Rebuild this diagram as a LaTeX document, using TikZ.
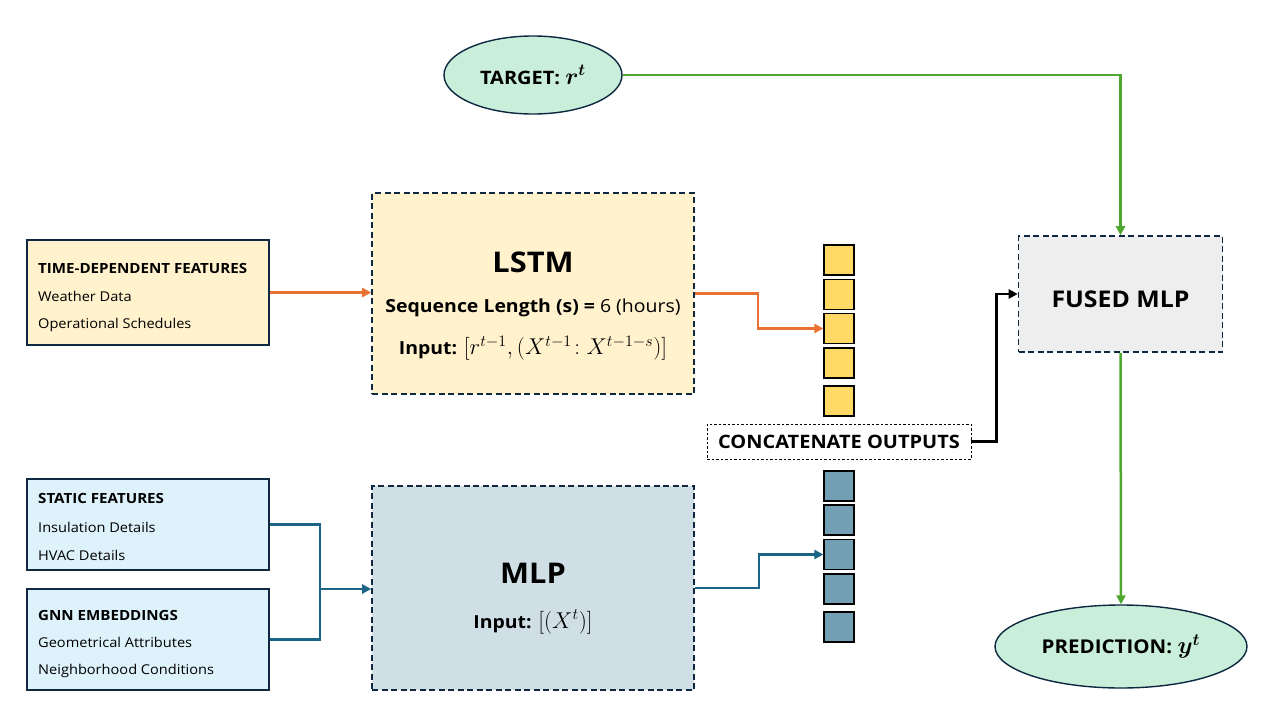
\RequirePackage{fix-cm}
\documentclass[tikz,border=0pt]{standalone}
\usepackage{graphicx}
\usepackage{fontspec}
\setmainfont{Open Sans}[FakeStretch=1.08]
\usetikzlibrary{shapes.geometric,arrows.meta}
\definecolor{dkb}{HTML}{0E2841}
\definecolor{yelfill}{HTML}{FFF2CC}
\definecolor{bluefill}{HTML}{DDF2FB}
\definecolor{mlpfill}{HTML}{D0DFE6}
\definecolor{greenfill}{HTML}{C9EFDA}
\definecolor{grayfill}{HTML}{EEEEEE}
\definecolor{orangec}{HTML}{E97132}
\definecolor{bluec}{HTML}{1B6486}
\definecolor{greenc}{HTML}{4EA72E}
\definecolor{yelsq}{HTML}{FFD966}
\definecolor{bluesq}{HTML}{739FB5}
\newcommand{\mathbig}[1]{\scalebox{1.27}{#1}}
\tikzset{
  featbox/.style={draw=dkb, line width=1.8pt, rectangle, inner sep=0pt},
  dashbox/.style={draw=dkb, line width=1.6pt, dash pattern=on 6pt off 3.5pt, rectangle, inner sep=0pt},
  ellnode/.style={draw=dkb, line width=1.4pt, ellipse, fill=greenfill, inner sep=0pt},
  sqnode/.style={draw=black, line width=1.3pt, rectangle, inner sep=0pt, minimum width=30pt, minimum height=30pt},
  headtxt/.style={anchor=west, inner sep=0pt, font=\fontsize{14}{16}\selectfont\bfseries},
  bodytxt/.style={anchor=west, inner sep=0pt, font=\fontsize{13.5}{16}\selectfont},
  conn/.style={line width=2.5pt},
  tip/.style={-{Triangle[length=9pt,width=9pt]}}
}
\begin{document}
\begin{tikzpicture}[x=1pt,y=-1pt]
\useasboundingbox[fill=white] (0,0) rectangle (1280,720);

% feature boxes
\node[featbox, fill=yelfill, minimum width=242pt, minimum height=105pt] (tdf) at (148,292.5) {};
\node[headtxt] (tdfh) at (38,268) {TIME-DEPENDENT FEATURES};
\node[bodytxt] (tdf1) at (38,296) {Weather Data};
\node[bodytxt] (tdf2) at (38,325) {Operational Schedules};

\node[featbox, fill=bluefill, minimum width=242pt, minimum height=91pt] (stat) at (148,524.5) {};
\node[headtxt] (stath) at (38,498) {STATIC FEATURES};
\node[bodytxt] (stat1) at (38,527) {Insulation Details};
\node[bodytxt] (stat2) at (38,555) {HVAC Details};

\node[featbox, fill=bluefill, minimum width=242pt, minimum height=101pt] (gnn) at (148,639.5) {};
\node[headtxt] (gnnh) at (38,615) {GNN EMBEDDINGS};
\node[bodytxt] (gnn1) at (38,642) {Geometrical Attributes};
\node[bodytxt] (gnn2) at (38,671) {Neighborhood Conditions};

% LSTM
\node[dashbox, fill=yelfill, minimum width=322pt, minimum height=201pt] (lstm) at (533,293.5) {};
\node[inner sep=0pt, font=\fontsize{28.5}{34}\selectfont\bfseries] (lstmt) at (533,262) {LSTM};
\node[inner sep=0pt, font=\fontsize{18}{22}\selectfont] (lstms) at (533,308) {\textbf{Sequence Length (s) =} 6 (hours)};
\node[inner sep=0pt, font=\fontsize{18}{22}\selectfont] (lstmi) at (533,348) {\textbf{Input:} \mathbig{$[r^{t-1},(X^{t-1}\!:X^{t-1-s})]$}};

% MLP
\node[dashbox, fill=mlpfill, minimum width=322pt, minimum height=204pt] (mlp) at (533,588) {};
\node[inner sep=0pt, font=\fontsize{28.5}{34}\selectfont\bfseries] (mlpt) at (533,573) {MLP};
\node[inner sep=0pt, font=\fontsize{18}{22}\selectfont] (mlpi) at (533,622) {\textbf{Input:} \mathbig{$[(X^{t})]$}};

% ellipses
\node[ellnode, minimum width=178pt, minimum height=78pt, font=\fontsize{18.5}{20}\selectfont\bfseries] (target) at (533,75) {TARGET: \mathbig{\boldmath$r^t$}};
\node[ellnode, minimum width=252pt, minimum height=83pt, font=\fontsize{19}{20}\selectfont\bfseries] (pred) at (1121,646.5) {PREDICTION: \mathbig{\boldmath$y^t$}};

% fused
\node[dashbox, fill=grayfill, minimum width=204pt, minimum height=116pt] (fused) at (1120.5,294) {};
\node[inner sep=0pt, font=\fontsize{23}{26}\selectfont\bfseries] (fusedt) at (1120.5,299) {FUSED MLP};

% squares
\node[sqnode, fill=yelsq] (y1) at (839,260) {};
\node[sqnode, fill=yelsq] (y2) at (839,294.5) {};
\node[sqnode, fill=yelsq] (y3) at (839,328.5) {};
\node[sqnode, fill=yelsq] (y4) at (839,363) {};
\node[sqnode, fill=yelsq] (y5) at (839,401) {};
\node[sqnode, fill=bluesq] (b1) at (839,486) {};
\node[sqnode, fill=bluesq] (b2) at (839,520) {};
\node[sqnode, fill=bluesq] (b3) at (839,554.5) {};
\node[sqnode, fill=bluesq] (b4) at (839,589) {};
\node[sqnode, fill=bluesq] (b5) at (839,627) {};

% concatenate
\node[draw=black, line width=0.8pt, dash pattern=on 2.5pt off 2pt, fill=white, minimum width=264pt, minimum height=35pt, inner sep=0pt, font=\fontsize{18.5}{20}\selectfont\bfseries] (concat) at (839,441.5) {CONCATENATE OUTPUTS};

% connectors
\draw[conn, orangec, tip] (tdf.east) -- (tdf.east -| lstm.west);
\draw[conn, orangec, tip] (lstm.east) -- ++(63,0) |- (y3.west);
\draw[conn, bluec, tip] (mlp.east) -- ++(64,0) |- (b3.west);
\coordinate (jn) at (320,589);
\draw[conn, bluec] (stat.east) -| (jn);
\draw[conn, bluec] (gnn.east) -| (jn);
\draw[conn, bluec, tip] (jn) -- (jn -| mlp.west);
\draw[conn, black, tip] (concat.east) -- ++(25,0) |- (fused.west);
\draw[conn, greenc, tip] (target.east) -| (fused.north);
\draw[conn, greenc, tip] (fused.south) -- (pred.north);
\end{tikzpicture}
\end{document}
